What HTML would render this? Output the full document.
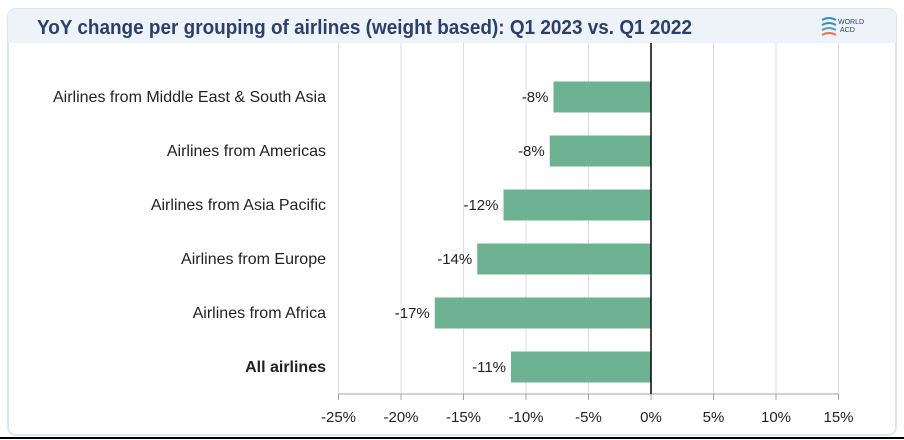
<!DOCTYPE html>
<html><head><meta charset="utf-8"><style>
html,body{margin:0;padding:0;background:#fff;}
svg{display:block;font-family:"Liberation Sans",Arial,sans-serif;}
</style></head><body>
<svg id="chart" width="904" height="440" viewBox="0 0 904 440">
  <rect x="0" y="0" width="904" height="440" fill="#fff"/>
  <rect x="8" y="9" width="888" height="426" rx="8" fill="#fff" stroke="#dde6f0" stroke-width="2"/>
  <path d="M8 43 L8 17 Q8 9 16 9 L888 9 Q896 9 896 17 L896 43 Z" fill="#eef3f9"/>
  <text x="37" y="34" font-size="20" font-weight="bold" fill="#2b3f6c" textLength="655" lengthAdjust="spacingAndGlyphs">YoY change per grouping of airlines (weight based): Q1 2023 vs. Q1 2022</text>
  <g>
    <path d="M822 20 q7 -4 14 0" stroke="#3b8fc6" stroke-width="2" fill="none"/>
    <path d="M822 25 q7 -4 14 0" stroke="#3b8fc6" stroke-width="2" fill="none"/>
    <path d="M822 30 q7 -4 14 0" stroke="#5aa0c8" stroke-width="2" fill="none"/>
    <path d="M822 35 q7 -4 14 0" stroke="#e07a4a" stroke-width="2" fill="none"/>
    <text x="838" y="24" font-size="7" fill="#2b3f6c">WORLD</text>
    <text x="840" y="32" font-size="7" fill="#2b3f6c">ACD</text>
  </g>
  <line x1="0" y1="438" x2="904" y2="438" stroke="#000" stroke-width="2"/>
  <g id="grid"></g><g id="bars"></g><g id="axis"></g><g id="labels"></g>
</svg>
<script>
const categories = ["Airlines from Middle East & South Asia","Airlines from Americas","Airlines from Asia Pacific","Airlines from Europe","Airlines from Africa","All airlines"];
const values = [-7.8, -8.1, -11.8, -13.9, -17.3, -11.2];
const valueLabels = ["-8%","-8%","-12%","-14%","-17%","-11%"];
const ticks = [-25,-20,-15,-10,-5,0,5,10,15];
const tickLabels = ["-25%","-20%","-15%","-10%","-5%","0%","5%","10%","15%"];

const NS="http://www.w3.org/2000/svg";
const x0=338.5, x1=838.5, vmin=-25, vmax=15;
const xs=v=>x0+(v-vmin)/(vmax-vmin)*(x1-x0);
const plotTop=43, axisY=394, bandTop=70, band=54;
const ys=i=>bandTop+band*i+band/2;
function mk(tag,attrs,parent){const e=document.createElementNS(NS,tag);for(const k in attrs)e.setAttribute(k,attrs[k]);parent.appendChild(e);return e;}
const grid=document.getElementById('grid'),bars=document.getElementById('bars'),axis=document.getElementById('axis'),labels=document.getElementById('labels');
ticks.forEach((t,i)=>{
  if(t!==0){const g=mk('line',{x1:xs(t),x2:xs(t),y1:plotTop,y2:axisY,stroke:'#d9dde6','stroke-width':1},grid);
  
  }
  const tk=mk('line',{x1:xs(t),x2:xs(t),y1:axisY,y2:axisY+6,stroke:'#a6a6a6'},axis);
  
  
  const tl=mk('text',{x:xs(t),y:axisY+28,'font-size':15,fill:'#222','text-anchor':'middle'},axis);
  tl.textContent=tickLabels[i];
  
  
});
const ax=mk('line',{x1:x0,x2:x1,y1:axisY,y2:axisY,stroke:'#a6a6a6'},axis);


categories.forEach((c,i)=>{
  const v=values[i],cy=ys(i),h=31;
  const r=mk('rect',{x:Math.min(xs(v),xs(0)),y:cy-h/2,width:Math.abs(xs(v)-xs(0)),height:h,fill:'#6db393'},bars);
  
  
  const vl=mk('text',{x:xs(v)-5,y:cy+5,'font-size':15,fill:'#222','text-anchor':'end'},labels);
  vl.textContent=valueLabels[i];
  
  
  const cl=mk('text',{x:326,y:cy+5,'font-size':16,fill:'#222','text-anchor':'end','font-weight':i===categories.length-1?'bold':'normal'},labels);
  cl.textContent=c;
  
  
});
const zl=mk('line',{x1:xs(0),x2:xs(0),y1:plotTop,y2:axisY,stroke:'#000','stroke-width':1.5},axis);


</script>
</body></html>
